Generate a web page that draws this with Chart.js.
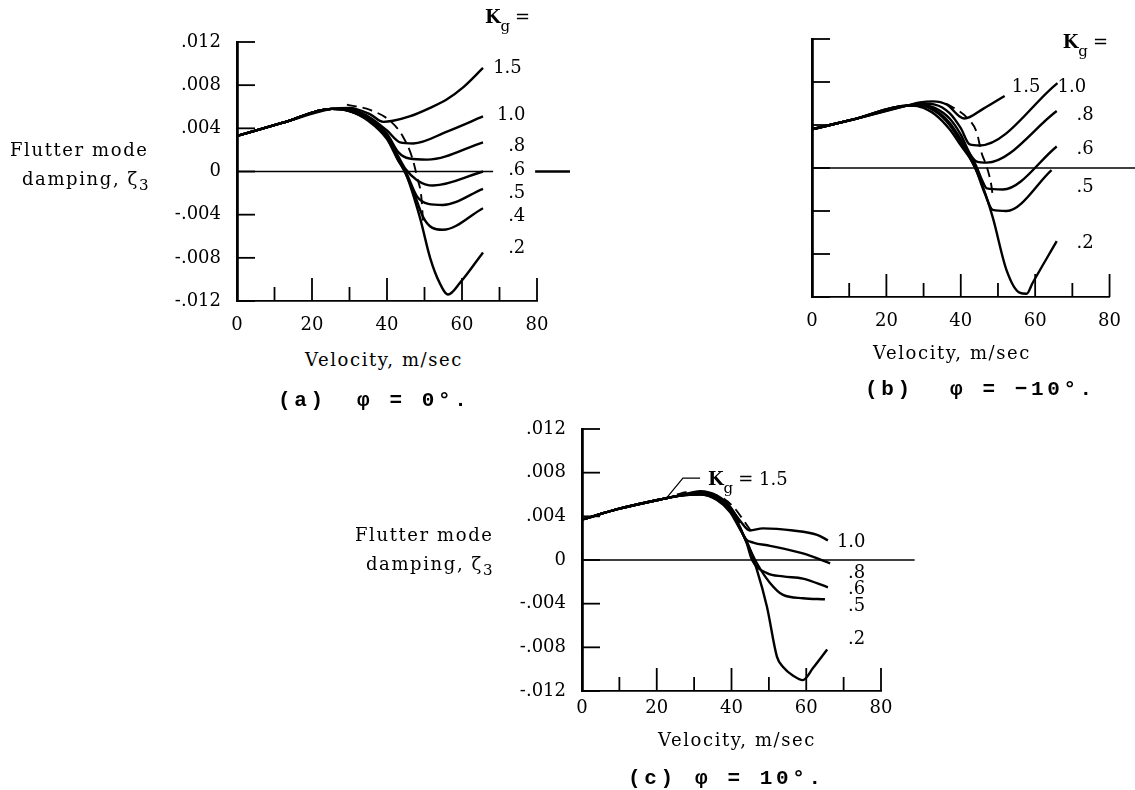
<!DOCTYPE html>
<html><head><meta charset="utf-8">
<script src="https://cdn.jsdelivr.net/npm/chart.js@4.4.1/dist/chart.umd.min.js"></script>
<style>
html,body{margin:0;padding:0;background:#fff;}
body{width:1135px;height:790px;position:relative;overflow:hidden;font-family:"DejaVu Serif",serif;color:#000;}
canvas{position:absolute;}
.t{position:absolute;white-space:nowrap;line-height:1;font-size:18px;letter-spacing:1.6px;}
.cap{position:absolute;white-space:nowrap;line-height:1;font-family:"Liberation Mono","DejaVu Sans Mono",monospace;font-weight:bold;font-size:21px;letter-spacing:3.6px;}
sub{font-size:15px;vertical-align:-5px;letter-spacing:0;}
</style></head><body>
<canvas id="cA" width="600" height="345" style="left:0;top:0"></canvas>
<canvas id="cB" width="575" height="345" style="left:560px;top:0"></canvas>
<canvas id="cC" width="640" height="340" style="left:300px;top:400px"></canvas>

<div class="t" style="left:10px;top:141px">Flutter mode</div>
<div class="t" style="left:22px;top:170px">damping, ζ<sub>3</sub></div>
<div class="t" style="left:305px;top:351px">Velocity, m/sec</div>
<div class="cap" style="left:278px;top:390px">(a)</div>
<div class="cap" style="left:357px;top:390px">φ = 0°.</div>

<div class="t" style="left:873px;top:344px">Velocity, m/sec</div>
<div class="cap" style="left:865px;top:379px">(b)</div>
<div class="cap" style="left:950px;top:379px">φ = −10°.</div>

<div class="t" style="left:355px;top:526px">Flutter mode</div>
<div class="t" style="left:366px;top:555px">damping, ζ<sub>3</sub></div>
<div class="t" style="left:658px;top:731px">Velocity, m/sec</div>
<div class="cap" style="left:628px;top:768px">(c)</div>
<div class="cap" style="left:695px;top:768px">φ = 10°.</div>

<script>
// ---------------- data ----------------
const xTickValues = [0, 20, 40, 60, 80];
const xTickLabels = ['0', '20', '40', '60', '80'];
const xMarkValues = [0, 10, 20, 30, 40, 50, 60, 70, 80];
const yTickValues = [-0.012, -0.008, -0.004, 0, 0.004, 0.008, 0.012];
const yTickLabels = ['-.012', '-.008', '-.004', '0', '.004', '.008', '.012'];

// (a) phi = 0 deg : [velocity m/sec, damping zeta3]
const a_kg15 = [[0,.0033],[12,.0045],[25.3,.0058],[30,.0059],[35.5,.0053],[39,.0046],[41.6,.0047],[46,.0051],[51.5,.0059],[56,.0067],[60.3,.0078],[65.6,.0096]];
const a_kg10 = [[0,.0033],[12,.0045],[25.3,.0058],[30,.0058],[35,.0051],[40,.0038],[43.5,.0027],[47,.0026],[56,.0037],[65.6,.0051]];
const a_kg08 = [[0,.0033],[12,.0045],[25.3,.0058],[30,.0057],[35,.0050],[40,.0035],[43,.0018],[46,.0012],[50.7,.0011],[65.6,.0027]];
const a_kg06 = [[0,.0033],[12,.0045],[25.3,.0058],[30,.0057],[35,.0049],[40,.0033],[43,.0014],[45,.0002],[48,-.0008],[52.3,-.0013],[65.6,.0000]];
const a_kg05 = [[0,.0033],[12,.0045],[25.3,.0058],[30,.0056],[35,.0048],[40,.0032],[43,.0012],[45,.0000],[48,-.0023],[51,-.0030],[54.9,-.0031],[65.6,-.0016]];
const a_kg04 = [[0,.0033],[12,.0045],[25.3,.0058],[30,.0056],[35,.0048],[40,.0031],[43,.0011],[45,-.0002],[47,-.0018],[49.6,-.0042],[52,-.0052],[54.9,-.0054],[65.6,-.0034]];
const a_kg02 = [[0,.0033],[12,.0045],[25.3,.0058],[30,.0056],[35,.0047],[40,.0030],[43,.0010],[45,-.0002],[48.8,-.0043],[51.5,-.0080],[54,-.0103],[56.3,-.0114],[59.5,-.0103],[65.6,-.0075]];
const a_dash = [[29.3,.0062],[35.5,.0057],[40.8,.0047],[44.3,.0032],[46.7,.0013],[48,-.0005],[49.3,-.0029],[49.6,-.0048]];
const a_kgNames = ['1.5','1.0','.8','.6','.5','.4','.2'];

// (b) phi = -10 deg
const b_kg15 = [[0,.0036],[12,.0046],[25.5,.0058],[29,.0061],[32.5,.0062],[36.2,.0059],[39.7,.0048],[41,.0046],[46,.0055],[51.8,.0067]];
const b_kg10 = [[0,.0036],[12,.0046],[25.5,.0058],[29,.0060],[33,.0059],[37,.0051],[40,.0037],[42.4,.0022],[45.1,.0021],[66,.0079]];
const b_kg08 = [[0,.0036],[12,.0046],[25.5,.0058],[29,.0059],[33,.0056],[37,.0046],[40,.0031],[42.5,.0013],[44.3,.0006],[47,.0005],[65.8,.0053]];
const b_kg06 = [[0,.0036],[12,.0046],[25.5,.0058],[29,.0058],[33,.0054],[37,.0042],[41,.0021],[44,.0003],[45.8,-.0012],[47,-.0019],[51.3,-.0020],[65.8,.0020]];
const b_kg05 = [[0,.0036],[12,.0046],[25.5,.0058],[29,.0058],[33,.0053],[37,.0040],[41,.0018],[44,-.0001],[46.5,-.0024],[48.6,-.0039],[52.3,-.0040],[64.4,-.0002]];
const b_kg02 = [[0,.0036],[12,.0046],[25.5,.0058],[29,.0057],[33,.0050],[37,.0036],[40,.0021],[43.2,.0005],[46,-.0018],[48.6,-.0046],[52.3,-.0095],[55.8,-.0116],[57.7,-.0117],[59.3,-.0107],[65.8,-.0068]];
const b_dash = [[36,.0060],[37.6,.0057],[41.6,.0047],[44.3,.0033],[45.6,.0014],[47,.0001],[48.3,-.0018],[48.6,-.0027]];
const b_kgNames = ['1.5','1.0','.8','.6','.5','.2'];

// (c) phi = 10 deg
const c_kg15 = [[0,.0037],[10,.0047],[21.7,.0056],[26.2,.0059],[31.6,.0063],[36.1,.0059],[39.6,.0049],[42.3,.0034]];
const c_kg10 = [[0,.0037],[10,.0047],[21.7,.0056],[26.2,.0059],[31.6,.0062],[36.1,.0058],[39.6,.0048],[42.5,.0035],[44.9,.0027],[48.4,.0029],[56.5,.0027],[62.9,.0023],[65.8,.0018]];
const c_kg08 = [[0,.0037],[10,.0047],[21.7,.0056],[26.2,.0059],[31.6,.0061],[36.1,.0057],[39.6,.0047],[42.3,.0030],[43.6,.0020],[45.8,.0016],[50.3,.0013],[59.1,.0006],[66.4,-.0003]];
const c_kg06 = [[0,.0037],[10,.0047],[21.7,.0056],[26.2,.0059],[31.6,.0061],[36.1,.0056],[39.6,.0046],[42.3,.0029],[44.1,.0015],[45.5,.0000],[49.5,-.0012],[53.8,-.0015],[59.1,-.0017],[65.8,-.0025]];
const c_kg05 = [[0,.0037],[10,.0047],[21.7,.0056],[26.2,.0059],[31.6,.0060],[36.1,.0056],[39.6,.0045],[42.3,.0029],[44.1,.0016],[46.8,-.0003],[50.3,-.0021],[53.8,-.0032],[59.1,-.0035],[65,-.0036]];
const c_kg02 = [[0,.0037],[10,.0047],[21.7,.0056],[26.2,.0059],[31.6,.0060],[36.1,.0055],[39.6,.0044],[42.3,.0028],[44.1,.0017],[46.8,-.0009],[49.5,-.0043],[52.2,-.0089],[53.8,-.0098],[56.5,-.0106],[59.1,-.0110],[61.8,-.0099],[65.6,-.0082]];
const c_dash = [[25.4,.0060],[28.1,.0062],[36.9,.0058],[40.4,.0049],[43.1,.0037],[45.5,.0025]];
const c_kgNames = ['1.0','.8','.6','.5','.2'];

// label anchor points (data units) for curve labels
const a_nameAt = [[68.3,.0096],[69.3,.0052],[72.3,.0023],[72.3,.0001],[72.3,-.0020],[72.3,-.0042],[72.3,-.0071]];
const b_nameAt = [[53.7,.0075],[66.0,.0075],[71.1,.0049],[71.1,.0017],[71.1,-.0018],[71.1,-.0070]];
const c_nameAt = [[68.2,.0016],[71.2,-.0012],[71.2,-.0027],[71.2,-.0042],[71.2,-.0073]];
const c_leader = [[22.2,.0055],[27,.0075],[31.6,.0075]];

// ---------------- drawing ----------------
const SERIF = '"DejaVu Serif", serif';

const decor = {
  id: 'decor',
  afterDatasetsDraw(chart, args, o) {
    const {ctx, chartArea: ca} = chart;
    const x = chart.scales.x, y = chart.scales.y;
    ctx.save();
    ctx.strokeStyle = '#000';
    ctx.fillStyle = '#000';
    ctx.lineCap = 'butt';
    // inward y ticks
    ctx.lineWidth = 1.8;
    yTickValues.forEach(v => {
      const py = y.getPixelForValue(v);
      ctx.beginPath(); ctx.moveTo(ca.left, py); ctx.lineTo(ca.left + 18, py); ctx.stroke();
    });
    // inward x ticks
    xMarkValues.forEach(v => {
      const px = x.getPixelForValue(v);
      const len = (v % 20 === 0) ? 23 : 14;
      ctx.beginPath(); ctx.moveTo(px, ca.bottom); ctx.lineTo(px, ca.bottom - len); ctx.stroke();
    });
    // zero line
    const y0 = y.getPixelForValue(0);
    ctx.lineWidth = 1.4;
    ctx.beginPath(); ctx.moveTo(x.getPixelForValue(0), y0); ctx.lineTo(x.getPixelForValue(o.zeroTo), y0); ctx.stroke();
    if (o.zeroDash) {
      ctx.lineWidth = 2.4;
      ctx.beginPath(); ctx.moveTo(x.getPixelForValue(o.zeroDash[0]), y0); ctx.lineTo(x.getPixelForValue(o.zeroDash[1]), y0); ctx.stroke();
    }
    // curve labels
    ctx.font = '18px ' + SERIF;
    ctx.textAlign = 'left';
    ctx.textBaseline = 'middle';
    o.names.forEach((t, i) => {
      const p = o.at[i];
      ctx.fillText(t, x.getPixelForValue(p[0]), y.getPixelForValue(p[1]));
    });
    // K_g label
    const kx = x.getPixelForValue(o.kgAt[0]), ky = y.getPixelForValue(o.kgAt[1]);
    ctx.font = 'bold 18px ' + SERIF;
    ctx.fillText('K', kx, ky);
    const wK = ctx.measureText('K').width;
    ctx.font = '15px ' + SERIF;
    ctx.fillText('g', kx + wK, ky + 9);
    const wg = ctx.measureText('g').width;
    ctx.font = '18px ' + SERIF;
    ctx.fillText(o.kgText, kx + wK + wg + 5, ky);
    ctx.restore();
  }
};

function ds(pts, extra) {
  return Object.assign({
    data: pts.map(p => ({x: p[0], y: p[1]})),
    borderColor: '#000', borderWidth: 2.4, pointRadius: 0, fill: false,
    cubicInterpolationMode: 'monotone'
  }, extra || {});
}

function makeChart(id, sets, cfg) {
  return new Chart(document.getElementById(id), {
    type: 'line',
    data: {datasets: sets},
    plugins: [decor],
    options: {
      responsive: false, animation: false, events: [],
      layout: {padding: cfg.pad},
      plugins: {legend: {display: false}, tooltip: {enabled: false}, decor: cfg.decor},
      scales: {
        x: {
          type: 'linear', min: 0, max: 80,
          afterBuildTicks: s => { s.ticks = xTickValues.map(v => ({value: v})); },
          afterFit: s => { s.height = cfg.xh; },
          grid: {display: false, drawTicks: false},
          border: {display: true, color: '#000', width: 1.7},
          ticks: {
            color: '#000', font: {family: SERIF, size: 18}, padding: cfg.xpad, maxRotation: 0, autoSkip: false,
            callback: (v) => xTickLabels[xTickValues.indexOf(v)]
          }
        },
        y: {
          type: 'linear', min: -0.012, max: 0.012,
          afterBuildTicks: s => { s.ticks = yTickValues.map(v => ({value: v})); },
          afterFit: s => { s.width = cfg.yw; },
          grid: {display: false, drawTicks: false},
          border: {display: true, color: '#000', width: 2.8},
          ticks: {
            display: cfg.ylabels, color: '#000', font: {family: SERIF, size: 18}, padding: 16, autoSkip: false,
            callback: (v) => yTickLabels[yTickValues.indexOf(v)]
          }
        }
      }
    }
  });
}

const dashStyle = {borderDash: [10, 6], borderWidth: 1.9};

makeChart('cA', [
  ds(a_kg15), ds(a_kg10), ds(a_kg08), ds(a_kg06), ds(a_kg05), ds(a_kg04), ds(a_kg02), ds(a_dash, dashStyle)
], {
  pad: {left: 0, top: 42, right: 63, bottom: 0}, yw: 237, xh: 44, xpad: 14, ylabels: true,
  decor: {zeroTo: 68.3, zeroDash: [79.5, 88.8], names: a_kgNames, at: a_nameAt, kgAt: [66.1, .0142], kgText: '='}
});

makeChart('cB', [
  ds(b_kg15), ds(b_kg10), ds(b_kg08), ds(b_kg06), ds(b_kg05), ds(b_kg02), ds(b_dash, dashStyle)
], {
  pad: {left: 0, top: 39, right: 25, bottom: 0}, yw: 252, xh: 48, xpad: 14, ylabels: false,
  decor: {zeroTo: 87, zeroDash: null, names: b_kgNames, at: b_nameAt, kgAt: [67.4, .0116], kgText: '='}
});

makeChart('cC', [
  ds(c_kg15), ds(c_kg10), ds(c_kg08), ds(c_kg06), ds(c_kg05), ds(c_kg02), ds(c_dash, dashStyle),
  ds(c_leader, {borderWidth: 1.2, cubicInterpolationMode: 'default', tension: 0})
], {
  pad: {left: 0, top: 29, right: 59, bottom: 0}, yw: 282, xh: 49, xpad: 7, ylabels: true,
  decor: {zeroTo: 89, zeroDash: null, names: c_kgNames, at: c_nameAt, kgAt: [33.7, .0073], kgText: '= 1.5'}
});
</script>
</body></html>
